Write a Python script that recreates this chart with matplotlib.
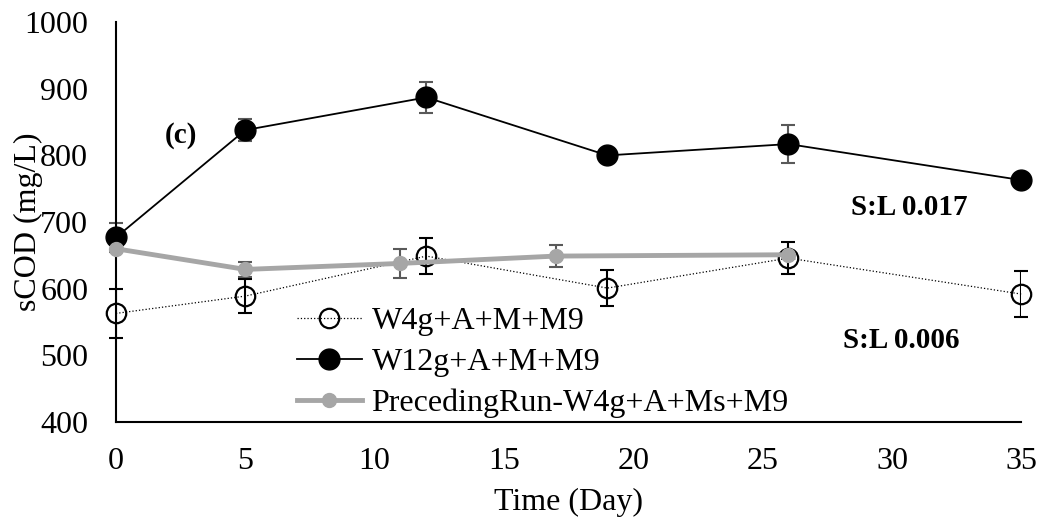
import matplotlib.pyplot as plt
import numpy as np

plt.rcParams['font.family'] = ['Liberation Serif', 'DejaVu Serif']

# sCOD over time (mg/L)
days_w4 = [0, 5, 12, 19, 26, 35]
cod_w4 = [563, 589, 649, 601, 646, 592]
err_w4 = [37, 25, 27, 27, 24, 35]

days_w12 = [0, 5, 12, 19, 26, 35]
cod_w12 = [677, 838, 887, 800, 817, 763]
err_w12 = [22, 17, 23, 0, 28, 0]

days_prev = [0, 5, 11, 17, 26]
cod_prev = [660, 629, 638, 649, 651]
err_prev = [0, 11, 22, 17, 0]

fig = plt.figure(figsize=(10.4, 5.25), dpi=100)
ax = fig.add_axes([0.1115, 0.196, 0.8705, 0.762])

# error bars first so markers sit on top
ax.errorbar(days_w4, cod_w4, yerr=err_w4, fmt='none', ecolor='black',
            elinewidth=1.5, capsize=5, capthick=1.5, zorder=2)
ax.errorbar(days_w12, cod_w12, yerr=err_w12, fmt='none', ecolor='#595959',
            elinewidth=1.5, capsize=5, capthick=1.5, zorder=2)
ax.errorbar(days_prev, cod_prev, yerr=err_prev, fmt='none', ecolor='#595959',
            elinewidth=1.5, capsize=5, capthick=1.5, zorder=2)

ax.plot(days_w4, cod_w4, linestyle=':', color='black', linewidth=0.9,
        marker='o', markersize=14, markerfacecolor='none',
        markeredgecolor='black', markeredgewidth=1.6,
        label='W4g+A+M+M9', zorder=3)
ax.plot(days_w12, cod_w12, linestyle='-', color='black', linewidth=1.3,
        marker='o', markersize=15, markerfacecolor='black',
        markeredgecolor='black', label='W12g+A+M+M9', zorder=4)
ax.plot(days_prev, cod_prev, linestyle='-', color='#A6A6A6', linewidth=3.5,
        marker='o', markersize=10, markerfacecolor='#A6A6A6',
        markeredgecolor='#A6A6A6', label='PrecedingRun-W4g+A+Ms+M9', zorder=5)

ax.set_xlim(0, 35)
ax.set_ylim(400, 1000)
ax.set_xticks(np.arange(0, 36, 5))
ax.set_yticks(np.arange(400, 1001, 100))
ax.tick_params(axis='both', length=0, labelsize=23)
ax.tick_params(axis='x', pad=18)
ax.tick_params(axis='y', pad=20)
for side in ['top', 'right']:
    ax.spines[side].set_visible(False)
for side in ['left', 'bottom']:
    ax.spines[side].set_linewidth(1.5)
for line in ax.get_lines():
    line.set_clip_on(False)

ax.set_xlabel('Time (Day)', fontsize=23)
ax.set_ylabel('sCOD (mg/L)', fontsize=23)
ax.xaxis.set_label_coords(0.5, -0.165)
ax.yaxis.set_label_coords(-0.081, 0.5)

ax.text(2.5, 830, '(c)', fontsize=21, fontweight='bold', ha='center', va='center')
ax.text(28.4, 722, 'S:L 0.017', fontsize=21, fontweight='bold', ha='left', va='center')
ax.text(28.1, 523, 'S:L 0.006', fontsize=21, fontweight='bold', ha='left', va='center')

ax.legend(loc='center left', bbox_to_anchor=(0.2, 0.15), frameon=False,
          fontsize=23, handlelength=2.03, handletextpad=0.3, labelspacing=0.36,
          borderpad=0, borderaxespad=0)

fig.savefig('out.png', dpi=100)
